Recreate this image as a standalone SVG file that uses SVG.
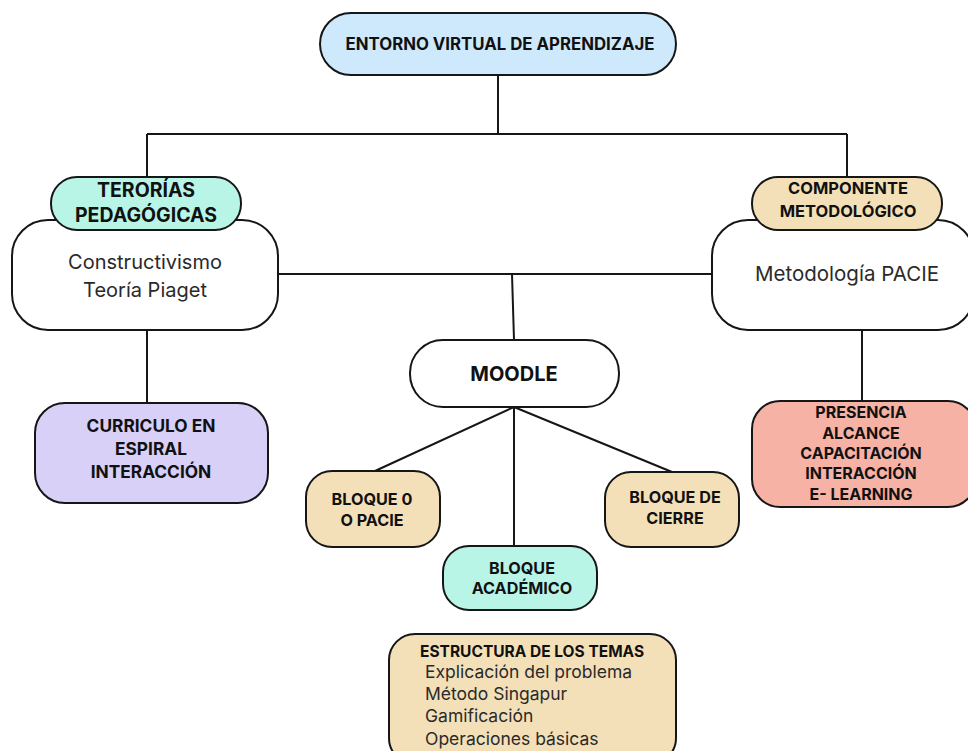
<svg xmlns="http://www.w3.org/2000/svg" width="968" height="751" viewBox="0 0 968 751">
<style>
.n{stroke:#161616;stroke-width:2}
.b{font-family:Inter,"Liberation Sans",sans-serif;font-weight:700;fill:#111;text-anchor:middle}
.r{font-family:Inter,"Liberation Sans",sans-serif;font-weight:400;fill:#2a2a2a;text-anchor:middle}
.bs{font-family:Inter,"Liberation Sans",sans-serif;font-weight:700;fill:#111}
.rs{font-family:Inter,"Liberation Sans",sans-serif;font-weight:400;fill:#2a2a2a}
.c{stroke:#161616;stroke-width:2;fill:none}
</style>
<rect width="968" height="751" fill="#fff"/>
<g id="connectors">
<path class="c" d="M498 75V134M147 134H847M147 134V178M847 134V178"/>
<path class="c" d="M278 274H712M512 274L514 340"/>
<path class="c" d="M147 330V403M862 330V401"/>
<path class="c" d="M514 407L375 471M514 407V546M514 407L672 472"/>
</g>
<g id="entorno">
<rect class="n" x="320" y="13" width="356" height="62" rx="31" fill="#cfe9fc"/>
<text class="b" x="500" y="50" font-size="16.8">ENTORNO VIRTUAL DE APRENDIZAJE</text>
</g>
<g id="teorias-box">
<rect class="n" x="12" y="220" width="266" height="110" rx="36" fill="#fff"/>
<text class="r" x="145" y="269" font-size="20">Constructivismo</text>
<text class="r" x="145" y="297" font-size="20">Teoría Piaget</text>
</g>
<g id="teorias">
<rect class="n" x="51" y="177" width="190" height="53" rx="26" fill="#b9f5e7"/>
<text class="b" x="146" y="197" font-size="19.5">TERORÍAS</text>
<text class="b" x="146" y="222" font-size="19.5">PEDAGÓGICAS</text>
</g>
<g id="componente-box">
<rect class="n" x="712" y="220" width="262" height="110" rx="36" fill="#fff"/>
<text class="r" x="847" y="281" font-size="20.5">Metodología PACIE</text>
</g>
<g id="componente">
<rect class="n" x="752" y="177" width="190" height="53" rx="26" fill="#f4e0b8"/>
<text class="b" x="848" y="194" font-size="16.5">COMPONENTE</text>
<text class="b" x="848" y="217" font-size="16.5">METODOLÓGICO</text>
</g>
<g id="moodle">
<rect class="n" x="410" y="340" width="209" height="67" rx="33" fill="#fff"/>
<text class="b" x="514" y="381" font-size="20">MOODLE</text>
</g>
<g id="curriculo">
<rect class="n" x="35" y="403" width="233" height="100" rx="30" fill="#d8d0f7"/>
<text class="b" x="151" y="432" font-size="17.3">CURRICULO EN</text>
<text class="b" x="151" y="455" font-size="17.3">ESPIRAL</text>
<text class="b" x="151" y="478" font-size="17.3">INTERACCIÓN</text>
</g>
<g id="presencia">
<rect class="n" x="752" y="401" width="224" height="106" rx="28" fill="#f7b2a6"/>
<text class="b" x="861" y="418" font-size="16">PRESENCIA</text>
<text class="b" x="861" y="439" font-size="16">ALCANCE</text>
<text class="b" x="861" y="459" font-size="16">CAPACITACIÓN</text>
<text class="b" x="861" y="479" font-size="16">INTERACCIÓN</text>
<text class="b" x="861" y="500" font-size="16">E- LEARNING</text>
</g>
<g id="bloque0">
<rect class="n" x="306" y="471" width="134" height="76" rx="26" fill="#f4e0b8"/>
<text class="b" x="372" y="505" font-size="16.2">BLOQUE 0</text>
<text class="b" x="372" y="526" font-size="16.2">O PACIE</text>
</g>
<g id="cierre">
<rect class="n" x="605" y="472" width="134" height="75" rx="26" fill="#f4e0b8"/>
<text class="b" x="675" y="503" font-size="16.2">BLOQUE DE</text>
<text class="b" x="675" y="524" font-size="16.2">CIERRE</text>
</g>
<g id="academico">
<rect class="n" x="443" y="546" width="154" height="64" rx="26" fill="#b9f5e7"/>
<text class="b" x="522" y="574" font-size="16.2">BLOQUE</text>
<text class="b" x="522" y="594" font-size="16.2">ACADÉMICO</text>
</g>
<g id="estructura">
<rect class="n" x="389" y="634" width="287" height="130" rx="26" fill="#f4e0b8"/>
<text class="bs" x="420" y="657" font-size="15.5">ESTRUCTURA DE LOS TEMAS</text>
<text class="rs" x="425" y="678" font-size="17.5">Explicación del problema</text>
<text class="rs" x="425" y="700" font-size="17.5">Método Singapur</text>
<text class="rs" x="425" y="722" font-size="17.5">Gamificación</text>
<text class="rs" x="425" y="745" font-size="17.5">Operaciones básicas</text>
</g>
</svg>
